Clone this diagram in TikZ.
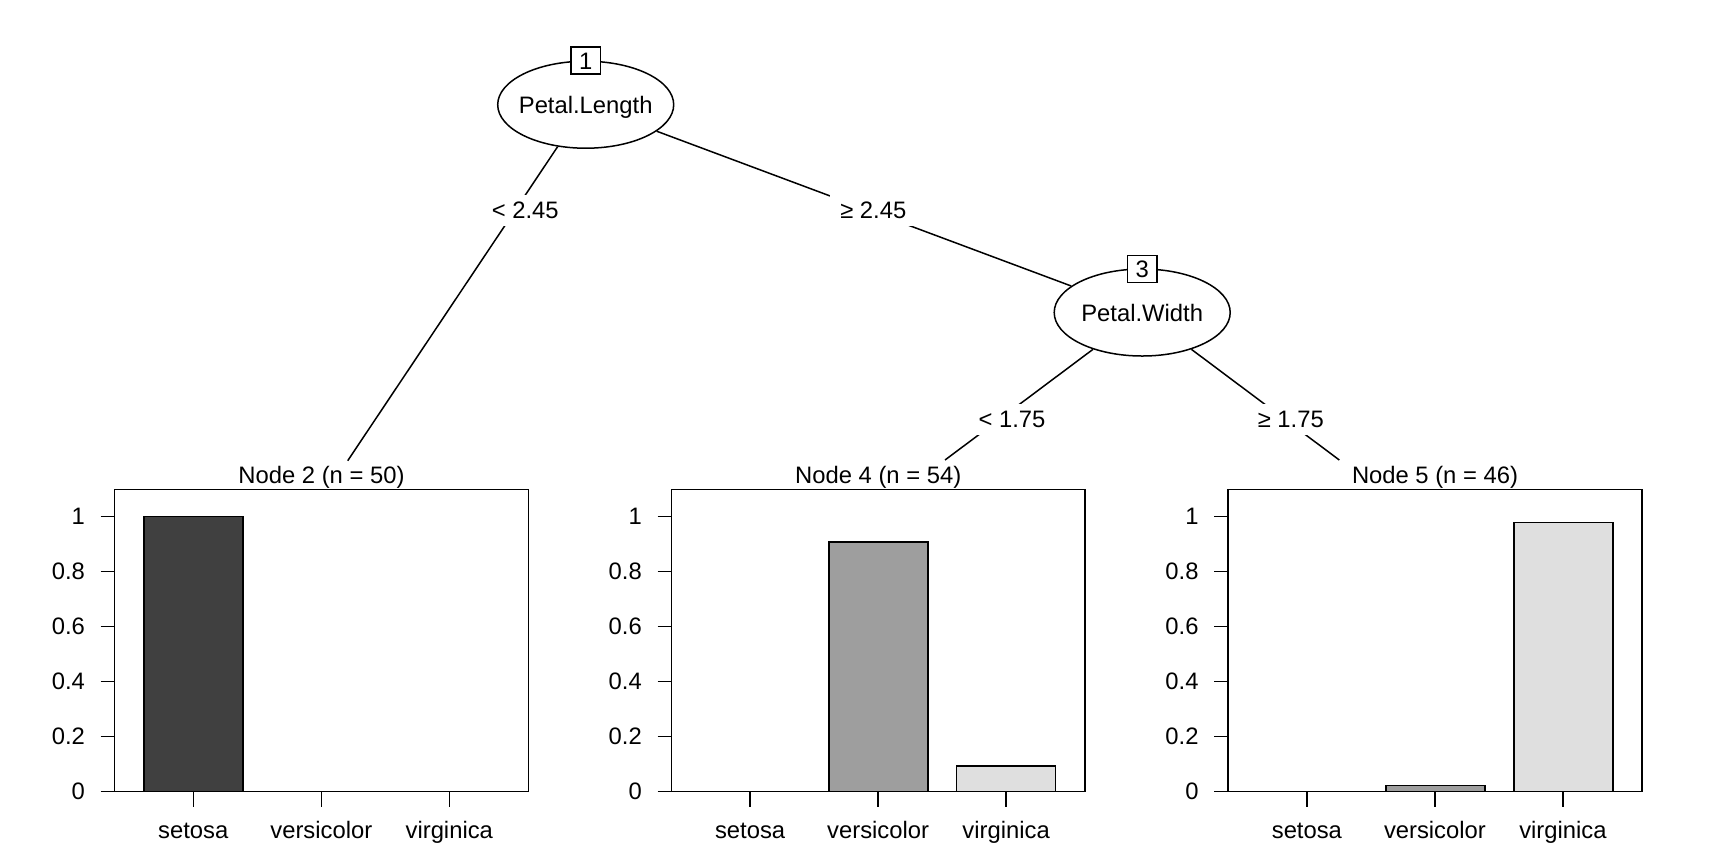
\documentclass[tikz,border=0pt]{standalone}
\usepackage{fontspec}
\setmainfont{Liberation Sans}
\usetikzlibrary{shapes.geometric}
\begin{document}
\begin{tikzpicture}[x=0.5pt, y=-0.5pt, line width=0.75pt,
        font=\fontsize{11.9pt}{14pt}\selectfont,
        split/.style={ellipse, draw, fill=white, minimum width=88pt, minimum height=43.5pt, inner sep=0pt, text height=8.5pt, text depth=0pt},
        idbox/.style={rectangle, draw, fill=white, minimum width=14.8pt, minimum height=13.5pt, inner sep=0pt, text height=8.5pt, text depth=0pt},
        cut/.style={fill=white, inner xsep=5pt, inner ysep=3.5pt, text height=8.5pt, text depth=0pt},
        panel/.style={rectangle, draw, minimum width=206.8pt, minimum height=151.2pt, inner sep=0pt},
        title/.style={anchor=base}
    ]
        \useasboundingbox (0,0) rectangle (1728,864);

        % Inner nodes
        \node[split] (n1) at (585.7,104.7) {\makebox[0pt]{Petal.Length}};
        \node[idbox] (id1) at (585.7,60.5) {1};
        \node[split] (n3) at (1142.2,312.5) {\makebox[0pt]{Petal.Width}};
        \node[idbox] (id3) at (1142.2,268.8) {3};

        % Terminal panels
        \node[panel] (p2) at (321.5,640.5) {};
        \node[title] (t2) at (321.5,483.3) {Node 2 (n = 50)};
        \node[panel] (p4) at (878.2,640.5) {};
        \node[title] (t4) at (878.2,483.3) {Node 4 (n = 54)};
        \node[panel] (p5) at (1435,640.5) {};
        \node[title] (t5) at (1435,483.3) {Node 5 (n = 46)};

        \coordinate (e2) at (347.7,460.7);
        \coordinate (e4) at (945,460);
        \coordinate (e5) at (1339.3,460);

        % Edges
        \draw (n1) -- (e2);
        \draw (n1) -- (n3);
        \draw (n3) -- (e4);
        \draw (n3) -- (e5);
        \node[cut] (s2) at (525.3,210) {< 2.45};
        \node[cut] (s3) at (873.3,210) {≥ 2.45};
        \node[cut] (s4) at (1012,419.3) {< 1.75};
        \node[cut] (s5) at (1290.8,419.3) {≥ 1.75};

        % Bars
        \draw[fill=black!75] (143.8,791.7) rectangle (242.8,516.7);
        \draw[fill=black!38] (829,791.7) rectangle (927.8,542.2);
        \draw[fill=black!12.5] (956.7,791.7) rectangle (1055.5,766.2);
        \draw[fill=black!38] (1385.8,791.7) rectangle (1484.8,785.7);
        \draw[fill=black!12.5] (1513.8,791.7) rectangle (1612.8,522.7);

        % Axes
        \foreach \L/\p in {114.7/2,671.5/4,1228.3/5} {
            \foreach \v [count=\i] in {0,0.2,0.4,0.6,0.8,1} {
                \draw (\L-14,791.7-275*\v) -- (\L,791.7-275*\v);
                \node[anchor=east, inner sep=0pt] (y\p-\i) at (\L-29,791.7-275*\v) {\v};
            }
            \foreach \name [count=\k from 0] in {setosa,versicolor,virginica} {
                \draw (\L+78.6+128*\k,791.7) -- (\L+78.6+128*\k,806.7);
                \node[anchor=base] (x\p-\k) at (\L+78.6+128*\k,838.3) {\name};
            }
        }
    \end{tikzpicture}
\end{document}
